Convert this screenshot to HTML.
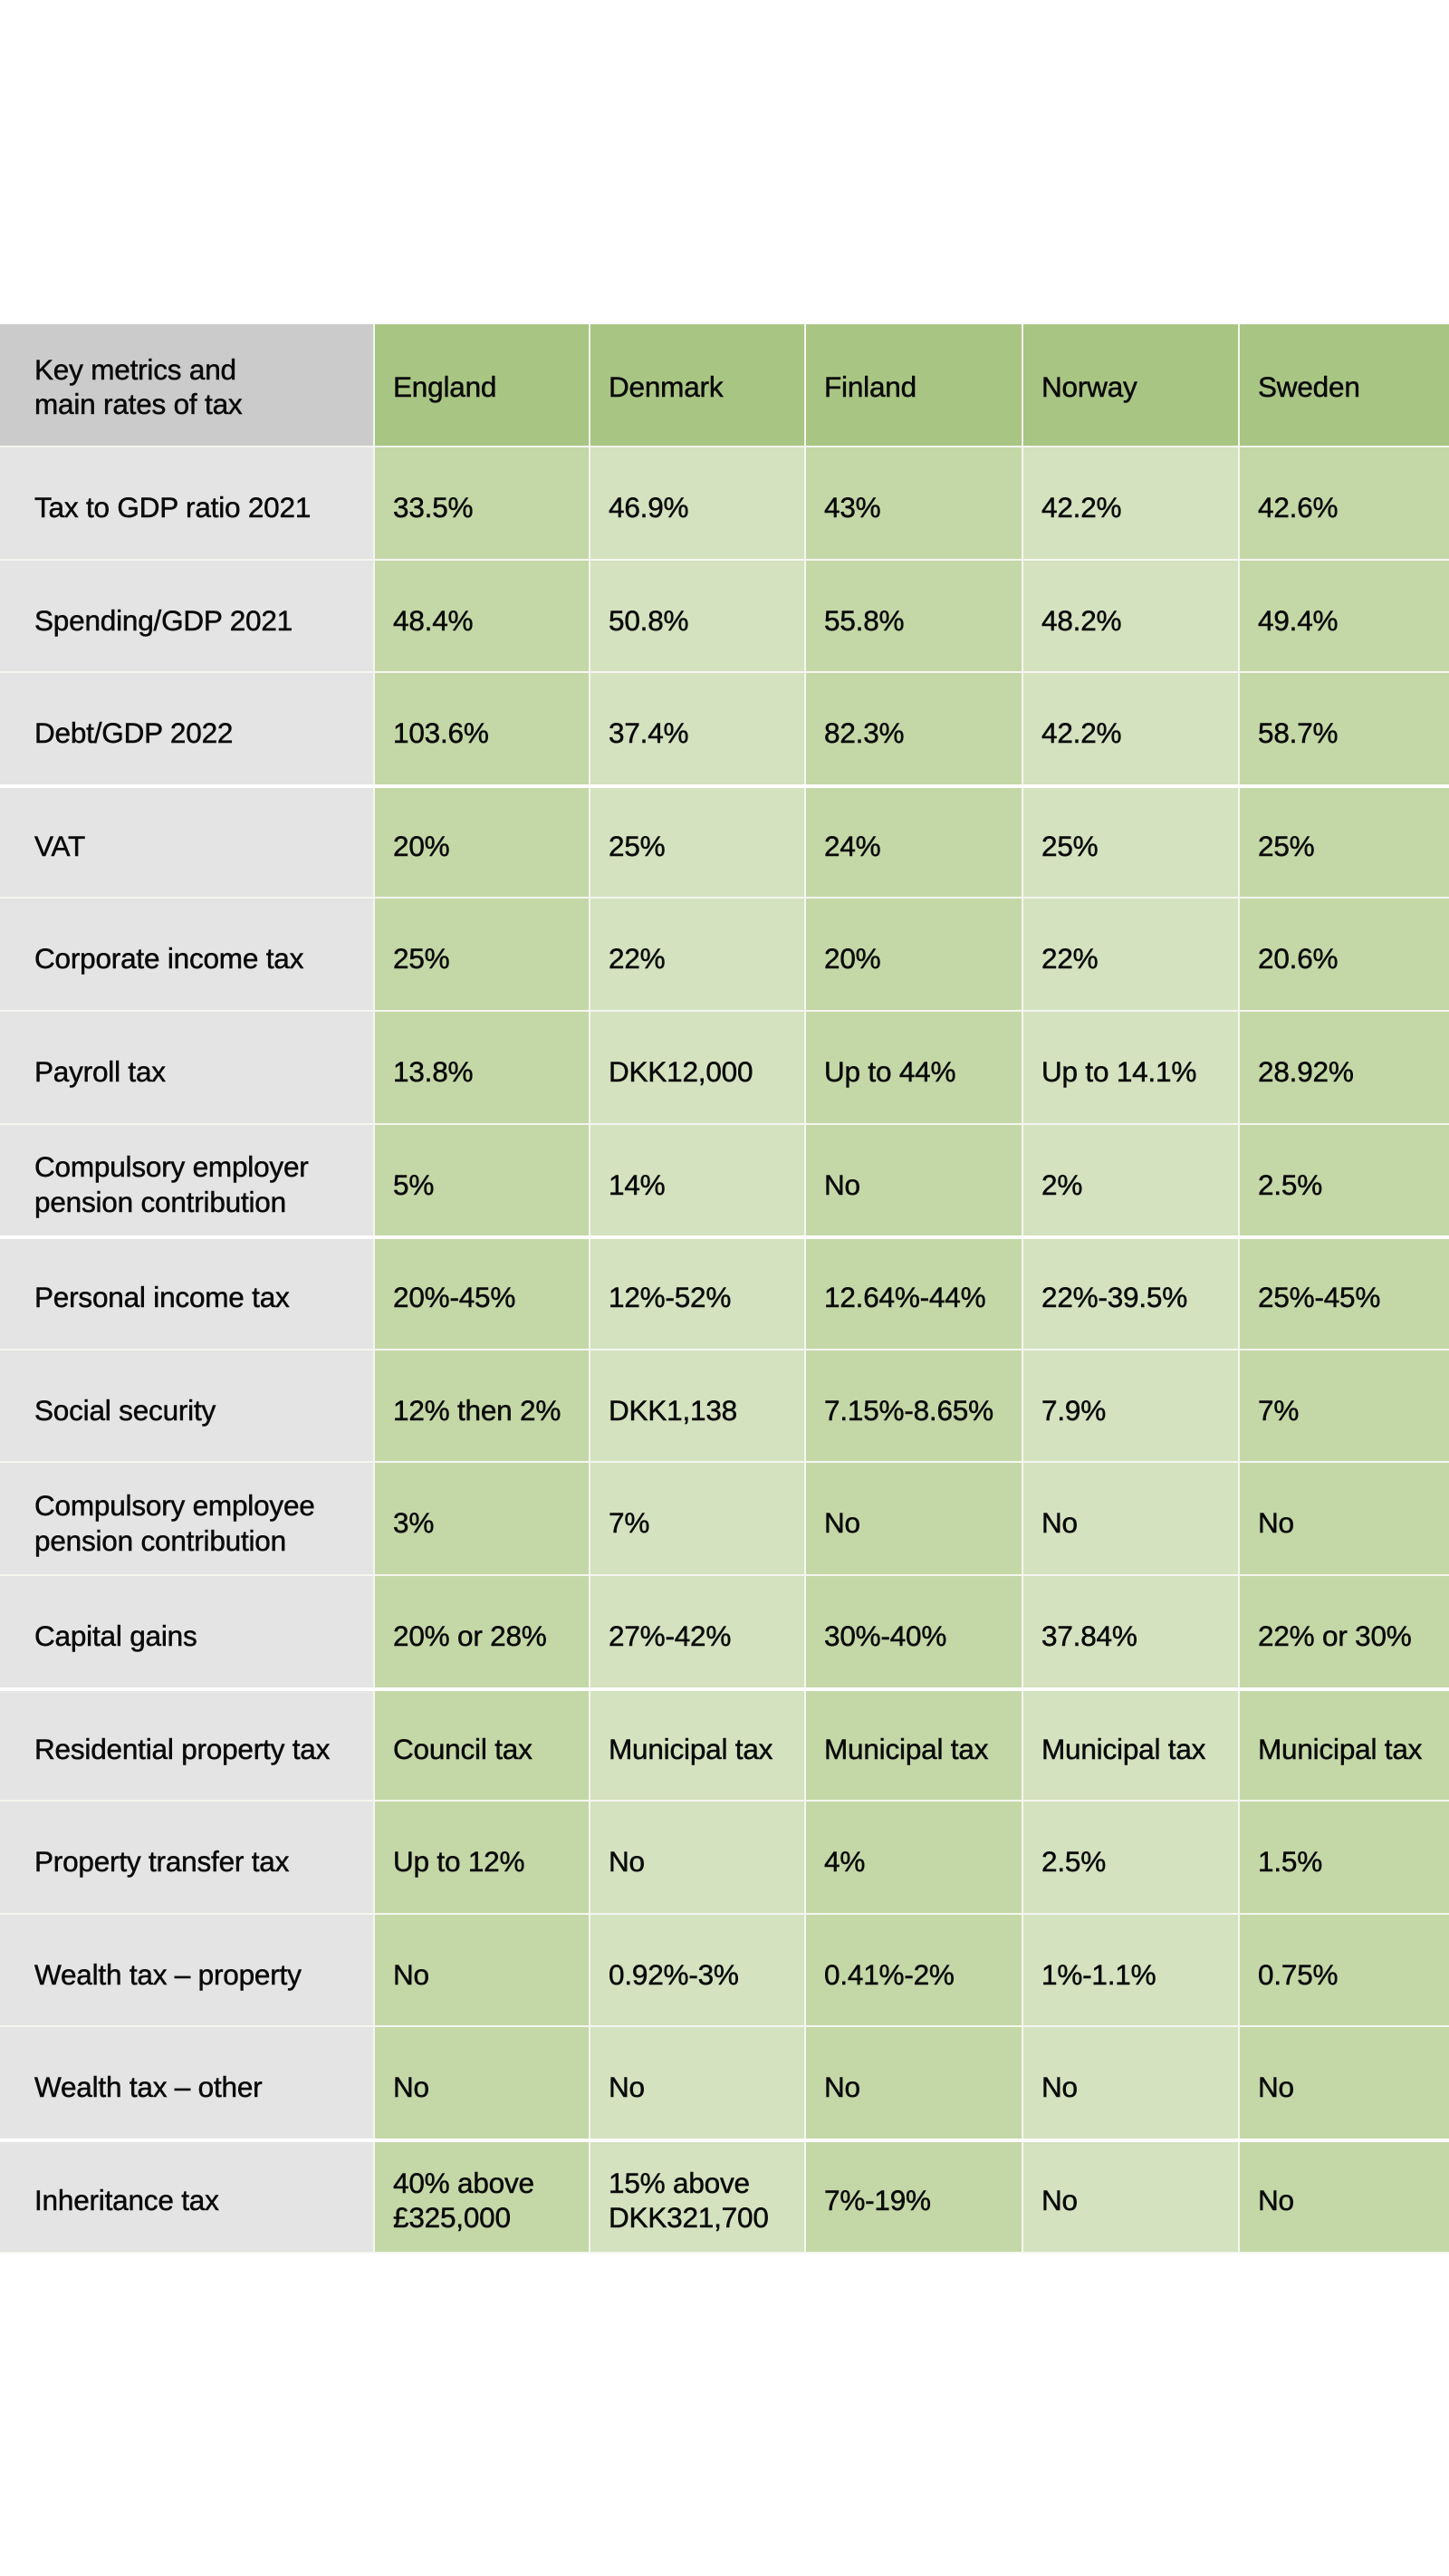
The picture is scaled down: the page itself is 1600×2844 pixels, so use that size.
<!DOCTYPE html>
<html><head><meta charset="utf-8"><style>
body{margin:0;width:1600px;height:2844px;background:#fff;position:relative;font-family:"Liberation Sans",sans-serif;}
.g{position:absolute;left:0;top:358px;width:1600px;display:grid;grid-template-columns:412px 236px 236px 238px 237px 235px;grid-template-rows:134px repeat(16,122.6px);gap:2px;background:#f4f6ef;height:2130px;}
.g div{display:flex;align-items:center;padding-left:20px;font-size:31.5px;color:#0a0a0a;line-height:1.22;padding-top:10px;box-sizing:border-box;-webkit-text-stroke:0.5px #0a0a0a;letter-spacing:-0.2px}
.g .l{background:#e4e4e4;padding-left:38px}
.g .h{background:#cbcbcb;padding-left:38px;padding-top:4px}
.g .hg{background:#a9c584;padding-top:4px}
.g .a{background:#c4d8a7}
.g .b{background:#d4e2bf}
.sep{position:absolute;left:0;width:1600px;height:4px;background:#fff}
</style></head><body>
<div class="g">
<div class="h">Key metrics and<br>main rates of tax</div><div class="hg">England</div><div class="hg">Denmark</div><div class="hg">Finland</div><div class="hg">Norway</div><div class="hg">Sweden</div>
<div class="l">Tax to GDP ratio 2021</div><div class="a">33.5%</div><div class="b">46.9%</div><div class="a">43%</div><div class="b">42.2%</div><div class="a">42.6%</div>
<div class="l">Spending/GDP 2021</div><div class="a">48.4%</div><div class="b">50.8%</div><div class="a">55.8%</div><div class="b">48.2%</div><div class="a">49.4%</div>
<div class="l">Debt/GDP 2022</div><div class="a">103.6%</div><div class="b">37.4%</div><div class="a">82.3%</div><div class="b">42.2%</div><div class="a">58.7%</div>
<div class="l">VAT</div><div class="a">20%</div><div class="b">25%</div><div class="a">24%</div><div class="b">25%</div><div class="a">25%</div>
<div class="l">Corporate income tax</div><div class="a">25%</div><div class="b">22%</div><div class="a">20%</div><div class="b">22%</div><div class="a">20.6%</div>
<div class="l">Payroll tax</div><div class="a">13.8%</div><div class="b">DKK12,000</div><div class="a">Up to 44%</div><div class="b">Up to 14.1%</div><div class="a">28.92%</div>
<div class="l">Compulsory employer<br>pension contribution</div><div class="a">5%</div><div class="b">14%</div><div class="a">No</div><div class="b">2%</div><div class="a">2.5%</div>
<div class="l">Personal income tax</div><div class="a">20%-45%</div><div class="b">12%-52%</div><div class="a">12.64%-44%</div><div class="b">22%-39.5%</div><div class="a">25%-45%</div>
<div class="l">Social security</div><div class="a">12% then 2%</div><div class="b">DKK1,138</div><div class="a">7.15%-8.65%</div><div class="b">7.9%</div><div class="a">7%</div>
<div class="l">Compulsory employee<br>pension contribution</div><div class="a">3%</div><div class="b">7%</div><div class="a">No</div><div class="b">No</div><div class="a">No</div>
<div class="l">Capital gains</div><div class="a">20% or 28%</div><div class="b">27%-42%</div><div class="a">30%-40%</div><div class="b">37.84%</div><div class="a">22% or 30%</div>
<div class="l">Residential property tax</div><div class="a">Council tax</div><div class="b">Municipal tax</div><div class="a">Municipal tax</div><div class="b">Municipal tax</div><div class="a">Municipal tax</div>
<div class="l">Property transfer tax</div><div class="a">Up to 12%</div><div class="b">No</div><div class="a">4%</div><div class="b">2.5%</div><div class="a">1.5%</div>
<div class="l">Wealth tax – property</div><div class="a">No</div><div class="b">0.92%-3%</div><div class="a">0.41%-2%</div><div class="b">1%-1.1%</div><div class="a">0.75%</div>
<div class="l">Wealth tax – other</div><div class="a">No</div><div class="b">No</div><div class="a">No</div><div class="b">No</div><div class="a">No</div>
<div class="l">Inheritance tax</div><div class="a">40% above<br>£325,000</div><div class="b">15% above<br>DKK321,700</div><div class="a">7%-19%</div><div class="b">No</div><div class="a">No</div>
</div>
<div class="sep" style="top:866px"></div>
<div class="sep" style="top:1364px"></div>
<div class="sep" style="top:1863px"></div>
<div class="sep" style="top:2361px"></div>
</body></html>
